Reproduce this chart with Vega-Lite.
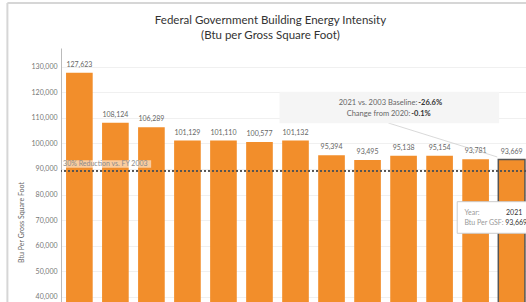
{
  "$schema": "https://vega.github.io/schema/vega-lite/v6.json",
  "width": 469,
  "height": 254,
  "autosize": "none",
  "padding": {"left": 61, "top": 48, "right": 0, "bottom": 0},
  "background": "white",
  "config": {
    "font": "Lato",
    "view": {"stroke": null},
    "axisY": {
      "tickCount": 10,
      "labelExpr": "format(datum.value, ',')",
      "labelFontSize": 7,
      "labelColor": "#777777",
      "labelPadding": 4,
      "ticks": false,
      "domainColor": "#bbbbbb",
      "gridColor": "#f0f0f0",
      "titleFontSize": 7,
      "titleFontWeight": "normal",
      "titleColor": "#666666",
      "titleX": -37,
      "titleY": 174
    }
  },
  "title": {
    "text": "Federal Government Building Energy Intensity",
    "subtitle": "(Btu per Gross Square Foot)",
    "anchor": "middle",
    "frame": "group",
    "dx": -25,
    "fontSize": 11.5,
    "fontWeight": "normal",
    "color": "#333333",
    "subtitleFontSize": 11.5,
    "subtitleColor": "#333333",
    "subtitlePadding": 4,
    "offset": -40
  },
  "data": {
    "values": [
      {"year": "2003", "btu": 127623},
      {"year": "2010", "btu": 108124},
      {"year": "2011", "btu": 106289},
      {"year": "2012", "btu": 101129},
      {"year": "2013", "btu": 101110},
      {"year": "2014", "btu": 100577},
      {"year": "2015", "btu": 101132},
      {"year": "2016", "btu": 95394},
      {"year": "2017", "btu": 93495},
      {"year": "2018", "btu": 95138},
      {"year": "2019", "btu": 95154},
      {"year": "2020", "btu": 93781},
      {"year": "2021", "btu": 93669}
    ]
  },
  "resolve": {"scale": {"x": "shared", "y": "shared"}},
  "layer": [
    {
      "mark": {"type": "bar", "color": "#F28E2B", "clip": true, "strokeWidth": 1.5},
      "encoding": {
        "x": {"field": "year", "type": "ordinal", "sort": null, "scale": {"paddingInner": 0.26, "paddingOuter": 0.14}, "axis": null},
        "y": {
          "field": "btu", "type": "quantitative",
          "scale": {"domain": [38000, 137300], "zero": false, "nice": false},
          "axis": {"title": "Btu Per Gross Square Foot", "labelExpr": "format(datum.value, ',')"}
        },
        "stroke": {"condition": {"test": "datum.year === '2021'", "value": "#555555"}, "value": "transparent"}
      }
    },
    {
      "mark": {"type": "text", "dy": -5, "fontSize": 7, "color": "#666666", "baseline": "bottom"},
      "encoding": {
        "x": {"field": "year", "type": "ordinal", "sort": null},
        "y": {"field": "btu", "type": "quantitative"},
        "text": {"field": "btu", "type": "quantitative", "format": ","}
      }
    },
    {
      "data": {"values": [{}]},
      "mark": {"type": "rule", "color": "#d6d6d6", "strokeWidth": 2},
      "encoding": {
        "x": {"datum": "2003", "type": "ordinal", "bandPosition": -2.2},
        "y": {"datum": 154900, "type": "quantitative"},
        "x2": {"datum": "2021", "bandPosition": 3},
        "y2": {"datum": 154900}
      }
    },
    {
      "data": {"values": [{}]},
      "mark": {"type": "rule", "color": "#d6d6d6", "strokeWidth": 2},
      "encoding": {
        "x": {"datum": "2003", "type": "ordinal", "bandPosition": -2.2},
        "y": {"datum": 154900, "type": "quantitative"},
        "y2": {"datum": 38000}
      }
    },
    {
      "mark": {"type": "rule", "color": "#555555", "strokeDash": [2, 2], "strokeWidth": 1},
      "encoding": {"y": {"datum": 89336, "type": "quantitative"}}
    },
    {
      "data": {"values": [{}]},
      "mark": {"type": "rect", "color": "white", "opacity": 0.55},
      "encoding": {
        "x": {"datum": "2003", "type": "ordinal", "bandPosition": -0.15},
        "x2": {"datum": "2011", "bandPosition": 0.49},
        "y": {"datum": 90500, "type": "quantitative"},
        "y2": {"datum": 93400}
      }
    },
    {
      "data": {"values": [{}]},
      "mark": {"type": "text", "align": "left", "baseline": "middle", "fontSize": 7, "color": "#8a8a8a", "text": "30% Reduction vs. FY 2003"},
      "encoding": {
        "x": {"datum": "2003", "type": "ordinal", "bandPosition": -0.11},
        "y": {"datum": 91840, "type": "quantitative"}
      }
    },
    {
      "data": {"values": [{}]},
      "mark": {"type": "rule", "color": "#c8c8c8", "strokeWidth": 0.7},
      "encoding": {
        "x": {"datum": "2018", "type": "ordinal", "bandPosition": -0.07},
        "y": {"datum": 107980, "type": "quantitative"},
        "x2": {"datum": "2021", "bandPosition": -0.04},
        "y2": {"datum": 94700}
      }
    },
    {
      "data": {"values": [{}]},
      "mark": {"type": "rect", "color": "#f5f5f5"},
      "encoding": {
        "x": {"datum": "2015", "type": "ordinal", "bandPosition": -0.1},
        "x2": {"datum": "2021", "bandPosition": 0.03},
        "y": {"datum": 107900, "type": "quantitative"},
        "y2": {"datum": 120200}
      }
    },
    {
      "data": {"values": [{}]},
      "mark": {"type": "text", "align": "right", "baseline": "middle", "fontSize": 7.5, "color": "#666666", "dx": -1, "text": "2021 vs. 2003 Baseline:"},
      "encoding": {
        "x": {"datum": "2019", "type": "ordinal", "bandPosition": -0.3},
        "y": {"datum": 115900, "type": "quantitative"}
      }
    },
    {
      "data": {"values": [{}]},
      "mark": {"type": "text", "align": "left", "baseline": "middle", "fontSize": 7.5, "fontWeight": "bold", "color": "#333333", "text": "-26.6%"},
      "encoding": {
        "x": {"datum": "2019", "type": "ordinal", "bandPosition": -0.3},
        "y": {"datum": 115900, "type": "quantitative"}
      }
    },
    {
      "data": {"values": [{}]},
      "mark": {"type": "text", "align": "right", "baseline": "middle", "fontSize": 7.5, "color": "#666666", "dx": -1, "text": "Change from 2020:"},
      "encoding": {
        "x": {"datum": "2018", "type": "ordinal", "bandPosition": 0.79},
        "y": {"datum": 111400, "type": "quantitative"}
      }
    },
    {
      "data": {"values": [{}]},
      "mark": {"type": "text", "align": "left", "baseline": "middle", "fontSize": 7.5, "fontWeight": "bold", "color": "#333333", "text": "-0.1%"},
      "encoding": {
        "x": {"datum": "2018", "type": "ordinal", "bandPosition": 0.79},
        "y": {"datum": 111400, "type": "quantitative"}
      }
    },
    {
      "data": {"values": [{}]},
      "mark": {"type": "rect", "color": "white", "stroke": "#cccccc", "strokeWidth": 1},
      "encoding": {
        "x": {"datum": "2020", "type": "ordinal", "bandPosition": -0.19},
        "x2": {"datum": "2021", "bandPosition": 1.6},
        "y": {"datum": 77220, "type": "quantitative"},
        "y2": {"datum": 64860}
      }
    },
    {
      "data": {"values": [{}]},
      "mark": {"type": "text", "align": "left", "baseline": "middle", "fontSize": 7, "color": "#999999", "text": "Year:"},
      "encoding": {
        "x": {"datum": "2020", "type": "ordinal", "bandPosition": 0.08},
        "y": {"datum": 72800, "type": "quantitative"}
      }
    },
    {
      "data": {"values": [{}]},
      "mark": {"type": "text", "align": "right", "baseline": "middle", "fontSize": 7, "color": "#333333", "text": "2021"},
      "encoding": {
        "x": {"datum": "2021", "type": "ordinal", "bandPosition": 0.9},
        "y": {"datum": 72800, "type": "quantitative"}
      }
    },
    {
      "data": {"values": [{}]},
      "mark": {"type": "text", "align": "left", "baseline": "middle", "fontSize": 7, "color": "#999999", "text": "Btu Per GSF:"},
      "encoding": {
        "x": {"datum": "2020", "type": "ordinal", "bandPosition": 0.08},
        "y": {"datum": 68900, "type": "quantitative"}
      }
    },
    {
      "data": {"values": [{}]},
      "mark": {"type": "text", "align": "left", "baseline": "middle", "fontSize": 7, "color": "#333333", "text": "93,669"},
      "encoding": {
        "x": {"datum": "2021", "type": "ordinal", "bandPosition": 0.26},
        "y": {"datum": 68900, "type": "quantitative"}
      }
    }
  ]
}
